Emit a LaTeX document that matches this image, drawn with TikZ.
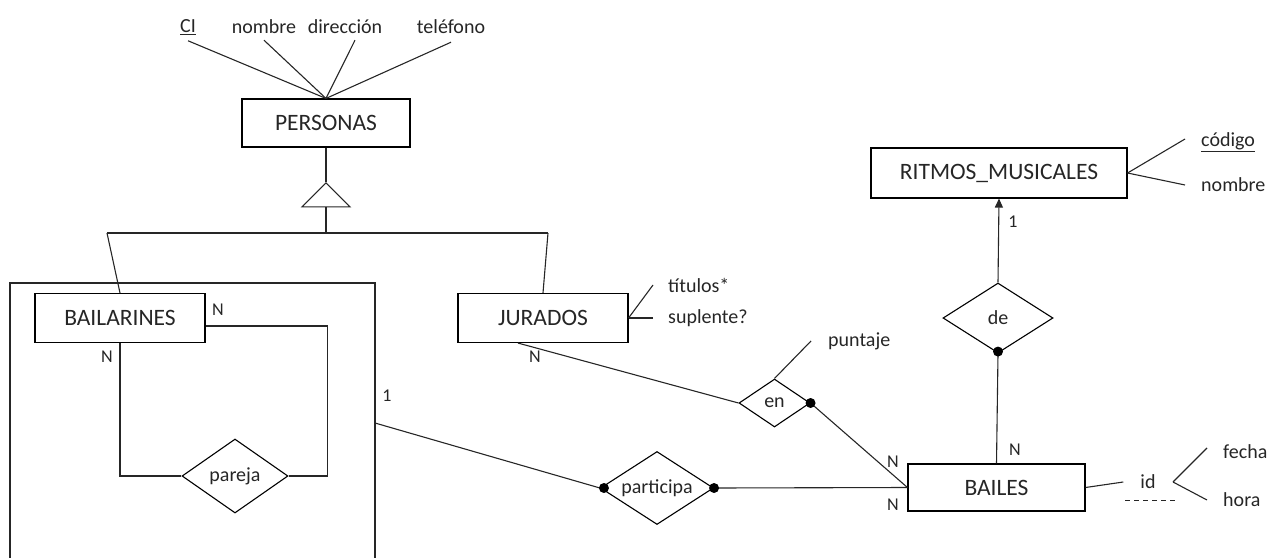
\documentclass[tikz,border=0pt]{standalone}
\usepackage{fontspec}
\setmainfont{Carlito}
\usetikzlibrary{shapes.geometric,arrows.meta}
\begin{document}
\begin{tikzpicture}[x=1pt,y=-1pt,
  every node/.style={font=\fontsize{20}{22}\selectfont, text=black!85},
  ent/.style={draw, line width=1.1pt, rectangle, inner sep=0pt, font=\fontsize{23.5}{25}\selectfont},
  rel/.style={draw, line width=1.1pt, diamond, inner sep=0pt, aspect=1.5},
  attr/.style={inner sep=1pt},
  card/.style={inner sep=0pt, font=\fontsize{18}{20}\selectfont},
  ln/.style={line width=1.1pt, draw=black!85},
  dot/.style={circle, fill=black, inner sep=0pt, minimum size=10pt}
]
\useasboundingbox (0,0) rectangle (1271,557);

% PERSONAS and attributes
\node[ent, minimum width=168pt, minimum height=48pt] (personas) at (326,123) {PERSONAS};
\node[attr] (ci) at (188,27) {\underline{CI}};
\node[attr] (pnombre) at (264,27) {nombre};
\node[attr] (direccion) at (345,27) {dirección};
\node[attr] (telefono) at (451,27) {teléfono};
\draw[ln] ([yshift=-5pt]ci.south) -- (personas.north);
\draw[ln] ([yshift=-5pt]pnombre.south) -- (personas.north);
\draw[ln] ([xshift=10pt,yshift=-5pt]direccion.south) -- (personas.north);
\draw[ln] ([yshift=-7pt]telefono.south) -- (personas.north);

% ISA
\node[ln, draw, isosceles triangle, shape border rotate=90, isosceles triangle stretches,
      minimum width=48pt, minimum height=24pt, inner sep=0pt] (isa) at (326,197) {};
\coordinate (barL) at (107,233);
\coordinate (barM) at (326,233);
\coordinate (barR) at (548,233);
\draw[ln] (personas.south) -- (isa.apex);
\draw[ln] (isa.lower side) -- (barM);
\draw[ln] (barL) -- (barR);

% Aggregation box
\coordinate (aggR) at (375,423);
\draw[ln] (10,562) -- (10,283) -- (375,283) -- (375,562);

% BAILARINES
\node[ent, minimum width=170pt, minimum height=49pt] (bailarines) at (120,318) {BAILARINES};
\draw[ln] (barL) -- (bailarines.north);
\node[rel, minimum width=106pt, minimum height=74pt] (pareja) at (235,476) {pareja};
\draw[ln] (bailarines.south) |- (pareja.west);
\draw[ln] ([yshift=-8pt]bailarines.east) -- ++(122,0) |- (pareja.east);
\node[card] (nb1) at (218,310) {N};
\node[card] (nb2) at (107,357) {N};

% JURADOS
\node[ent, minimum width=170pt, minimum height=49pt] (jurados) at (543,318) {JURADOS};
\draw[ln] (barR) -- (jurados.north);
\node[attr, anchor=west] (titulos) at (667,285) {títulos*};
\node[attr, anchor=west] (suplente) at (667,318) {suplente?};
\draw[ln] ([xshift=-14pt]titulos.west) -- (jurados.east);
\draw[ln] ([xshift=-14pt]suplente.west) -- (jurados.east);
\node[card] (nj) at (535,357) {N};

% BAILES
\node[ent, minimum width=177pt, minimum height=47pt] (bailes) at (996.5,487.5) {BAILES};

% participa
\node[rel, minimum width=113pt, minimum height=73pt] (participa) at (657,488) {participa};
\draw[ln] (aggR) -- (participa.west);
\draw[ln] (participa.east) -- (bailes.west);
\node[dot] at ([xshift=4pt]participa.west) {};
\node[dot] at (participa.east) {};
\node[card] (one) at (387,396) {1};
\node[card] (np1) at (893,462) {N};
\node[card] (np2) at (893,505) {N};

% en
\node[rel, minimum width=71pt, minimum height=48pt] (en) at (774.5,403) {en};
\draw[ln] ([xshift=-25pt]jurados.south) -- (en.west);
\draw[ln] (en.east) -- (bailes.west);
\node[dot] at (en.east) {};
\node[attr, anchor=west] (puntaje) at (827,341) {puntaje};
\draw[ln] (en.north) -- ([xshift=-16pt]puntaje.west);

% RITMOS_MUSICALES
\node[ent, minimum width=256pt, minimum height=50pt] (ritmos) at (999,173) {RITMOS\_MUSICALES};
\node[rel, minimum width=110pt, minimum height=70pt] (de) at (998,318) {de};
\draw[ln, -{Triangle[width=8pt,length=9pt]}] (de.north) -- (ritmos.south);
\draw[ln] (de.south) -- (bailes.north);
\node[dot] at ([yshift=2pt]de.south) {};
\node[card] (nr1) at (1013,222) {1};
\node[card] (nr2) at (1015,450) {N};
\node[attr, anchor=west] (codigo) at (1200,142) {\underline{código}};
\node[attr, anchor=west] (rnombre) at (1200,185) {nombre};
\draw[ln] (ritmos.east) -- ([xshift=-15pt,yshift=3pt]codigo.west);
\draw[ln] (ritmos.east) -- ([xshift=-15pt]rnombre.west);

% id attribute of BAILES
\node[attr] (id) at (1148,482) {id};
\draw[ln] (bailes.east) -- ([xshift=-16pt]id.west);
\draw[ln, dash pattern=on 5pt off 4pt] ([xshift=-23pt,yshift=-10pt]id.south) -- ([xshift=28pt,yshift=-10pt]id.south);
\coordinate (idfork) at (1173,482);
\node[attr, anchor=west] (fecha) at (1222,452) {fecha};
\node[attr, anchor=west] (hora) at (1222,500) {hora};
\draw[ln] (idfork) -- ([xshift=-15pt,yshift=4pt]fecha.west);
\draw[ln] (idfork) -- ([xshift=-15pt]hora.west);
\end{tikzpicture}
\end{document}
